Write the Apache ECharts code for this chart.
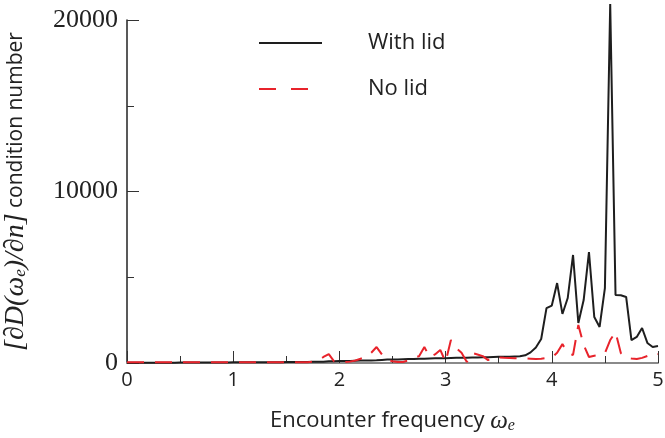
<!DOCTYPE html>
<html><head><meta charset="utf-8">
<script src="https://cdn.jsdelivr.net/npm/echarts@6/dist/echarts.min.js"></script>
<style>html,body{margin:0;padding:0;background:#fff}#c{width:665px;height:438px}</style>
</head><body><div id="c"></div>
<script>
// frequency grid ω_e from 0 to 5, step 0.05
const omega = [0,0.05,0.1,0.15,0.2,0.25,0.3,0.35,0.4,0.45,0.5,0.55,0.6,0.65,0.7,0.75,0.8,0.85,0.9,0.95,
1,1.05,1.1,1.15,1.2,1.25,1.3,1.35,1.4,1.45,1.5,1.55,1.6,1.65,1.7,1.75,1.8,1.85,1.9,1.95,
2,2.05,2.1,2.15,2.2,2.25,2.3,2.35,2.4,2.45,2.5,2.55,2.6,2.65,2.7,2.75,2.8,2.85,2.9,2.95,
3,3.05,3.1,3.15,3.2,3.25,3.3,3.35,3.4,3.45,3.5,3.55,3.6,3.65,3.7,3.75,3.8,3.85,3.9,3.95,
4,4.05,4.1,4.15,4.2,4.25,4.3,4.35,4.4,4.45,4.5,4.55,4.6,4.65,4.7,4.75,4.8,4.85,4.9,4.95,5];
const withLid = [20,20,20,20,20,20,20,20,20,20,25,25,25,25,25,25,25,25,30,30,
40,40,40,40,40,45,45,45,45,45,60,60,60,60,60,70,70,70,100,100,
110,110,120,130,140,150,150,160,180,200,210,210,220,230,240,250,250,260,270,280,
280,290,300,300,310,320,320,330,340,350,360,370,370,380,390,450,620,900,1400,3200,
3350,4660,2860,3790,6300,2330,3670,6470,2680,2100,4370,20930,3970,3950,3850,1340,1520,2040,1170,930,990];
const noLid = [40,40,40,40,40,40,40,40,40,40,40,40,40,40,40,40,40,40,40,40,
40,40,40,40,40,40,40,40,40,40,40,40,40,40,50,80,150,350,520,100,
40,50,80,150,250,350,600,930,500,170,100,60,60,150,300,400,930,350,500,760,
60,1340,870,600,60,580,500,400,170,350,320,300,290,280,290,270,250,230,250,290,
300,600,1100,580,470,2220,1050,350,420,470,580,1340,1810,580,300,260,230,300,410,580,520];
const yTicks = [0,10000,20000];
const xTicks = [0,1,2,3,4,5];

const SANS = 'Open Sans';
const chart = echarts.init(document.getElementById('c'), null, {renderer:'canvas'});
const pairs = (ys) => omega.map((x,i)=>[x, ys[i]]);
chart.setOption({
  animation:false,
  backgroundColor:'#fff',
  grid:{left:127,right:7,top:20,bottom:75,containLabel:false,outerBoundsMode:'none'},
  legend:{
    show:true, orient:'vertical', left:253, top:27, itemWidth:63, itemHeight:14, itemGap:24,
    itemStyle:{opacity:0},
    textStyle:{fontFamily:SANS, fontSize:22, color:'#222', padding:[0,0,0,41]},
    data:[{name:'With lid'},{name:'No lid', lineStyle:{type:[17,15]}}]
  },
  xAxis:{
    type:'value', min:0, max:5, interval:1,
    axisLine:{show:true, lineStyle:{color:'#8a8a8a', width:2}},
    axisTick:{show:true, inside:true, length:12, lineStyle:{color:'#333', width:1}},
    minorTick:{show:true, splitNumber:2, length:7, lineStyle:{color:'#333', width:1}},
    splitLine:{show:false},
    axisLabel:{margin:7, fontFamily:SANS, fontSize:20, color:'#222',
      formatter:(v)=> xTicks.includes(v) ? String(v) : ''},
    name:'{t|Encounter frequency }{m|ω}{s|e}', nameLocation:'middle', nameGap:45,
    nameTextStyle:{rich:{
      t:{fontFamily:SANS, fontSize:22, color:'#222'},
      m:{fontFamily:'Liberation Serif', fontStyle:'italic', fontSize:25, color:'#222'},
      s:{fontFamily:'Liberation Serif', fontStyle:'italic', fontSize:16, color:'#222', padding:[10,0,0,0]}
    }}
  },
  yAxis:{
    type:'value', min:0, max:20000, interval:10000,
    axisLine:{show:true, lineStyle:{color:'#222', width:1.5}},
    axisTick:{show:true, inside:true, length:12, lineStyle:{color:'#333', width:1}},
    minorTick:{show:true, splitNumber:2, length:7, lineStyle:{color:'#333', width:1}},
    splitLine:{show:false},
    axisLabel:{margin:9, fontFamily:'Liberation Serif', fontSize:26, color:'#222',
      formatter:(v)=> yTicks.includes(v) ? String(v) : ''},
    name:'{m|[∂D(ω}{s|e}{m|)/∂n]}{t| condition number}', nameLocation:'middle', nameGap:97, nameRotate:90,
    nameTextStyle:{rich:{
      m:{fontFamily:'Liberation Serif', fontStyle:'italic', fontSize:28, color:'#222'},
      s:{fontFamily:'Liberation Serif', fontStyle:'italic', fontSize:17, color:'#222', padding:[10,0,0,0]},
      t:{fontFamily:SANS, fontSize:21, color:'#222'}
    }}
  },
  series:[
    {name:'With lid', type:'line', data:pairs(withLid), symbol:'none', clip:false, z:3,
     lineStyle:{color:'#1e1e1e', width:2}, itemStyle:{color:'#1e1e1e'}},
    {name:'No lid', type:'line', data:pairs(noLid), symbol:'none', clip:false, z:4,
     lineStyle:{color:'#e8232b', width:2, type:[17,11]}, itemStyle:{color:'#e8232b'}}
  ]
});
</script></body></html>
